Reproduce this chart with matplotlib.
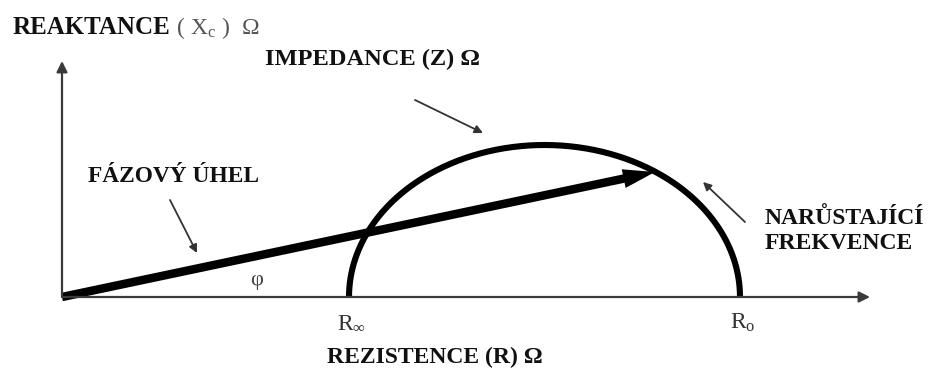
import numpy as np
import matplotlib
matplotlib.use("Agg")
import matplotlib.pyplot as plt

plt.rcParams['font.family'] = ['Liberation Serif', 'DejaVu Serif']
plt.rcParams['mathtext.fontset'] = 'custom'
plt.rcParams['mathtext.rm'] = 'Liberation Serif'
plt.rcParams['mathtext.it'] = 'Liberation Serif:italic'

# chart values (resistance / reactance units, origin at 0)
R_INF = 287          # high frequency resistance
R_ZERO = 678         # low frequency resistance
XC_MAX = 152         # peak reactance of the arc
Z_POINT = (593, 125) # measured impedance (R, Xc)

x_label = "REZISTENCE (R) Ω"
y_label_bold = "REAKTANCE"
y_label_rest = r"( $\mathregular{X_c}$ )  Ω"
z_label = "IMPEDANCE (Z) Ω"
phase_label = "FÁZOVÝ ÚHEL"
freq_label = "NARŮSTAJÍCÍ\nFREKVENCE"

fig = plt.figure(figsize=(9.36, 3.72), dpi=100)
ax = fig.add_axes([0, 0, 1, 1])
ax.set_xlim(-62, 874)
ax.set_ylim(-75, 297)
ax.axis('off')

axis_col = '#3a3a3a'
# axes with arrowheads
ax.annotate('', xy=(808, 0), xytext=(0, 0),
            arrowprops=dict(arrowstyle='-|>', lw=1.6, color=axis_col,
                            mutation_scale=16, shrinkA=0, shrinkB=0))
ax.annotate('', xy=(0, 236), xytext=(0, 0),
            arrowprops=dict(arrowstyle='-|>', lw=1.6, color=axis_col,
                            mutation_scale=16, shrinkA=0, shrinkB=0))

# impedance arc
t = np.linspace(0, np.pi, 300)
centre = (R_INF + R_ZERO) / 2
half = (R_ZERO - R_INF) / 2
ax.plot(centre + half * np.cos(t), XC_MAX * np.sin(t), color='black',
        lw=4.4, solid_capstyle='butt')

# impedance vector
ax.arrow(0, 0, Z_POINT[0], Z_POINT[1], width=8.5, head_width=19,
         head_length=32, length_includes_head=True, color='black', lw=0)

# labels
dark = '#111111'
t1 = ax.text(-49, 269, y_label_bold, va='center', ha='left',
             fontweight='bold', fontsize=18, color=dark)
ax.annotate(" " + y_label_rest, xy=(1, 0.5), xycoords=t1, va='center',
            ha='left', fontsize=17, color='#555555')
ax.text(203, 238, z_label, va='center', ha='left', fontweight='bold',
        fontsize=17.6, color=dark)
ax.text(26, 120, phase_label, va='center', ha='left', fontweight='bold',
        fontsize=16.8, color=dark)
ax.text(703, 66, freq_label, va='center', ha='left', linespacing=1.2,
        fontweight='bold', fontsize=17, color=dark)
ax.text(265, -60, x_label, va='center', ha='left', fontweight='bold',
        fontsize=17, color=dark)

ax.text(195, 16, "φ", fontsize=16, ha='center', va='center', color='#444444')
ax.text(R_INF + 3, -26, r"R$_\infty$", fontsize=17, ha='center', va='center',
        color='#333333')
ax.text(R_ZERO + 3, -26, r"R$_\mathregular{o}$", fontsize=17, ha='center',
        va='center', color='#333333')

# pointer arrows
thin = dict(arrowstyle='-|>', lw=1.3, color='#333333', mutation_scale=12,
            shrinkA=0, shrinkB=0)
ax.annotate('', xy=(421, 164), xytext=(353, 197), arrowprops=thin)
ax.annotate('', xy=(135, 44), xytext=(108, 97), arrowprops=thin)
ax.annotate('', xy=(641, 115), xytext=(683, 75), arrowprops=thin)

fig.savefig("out.png", dpi=100, facecolor='white')
